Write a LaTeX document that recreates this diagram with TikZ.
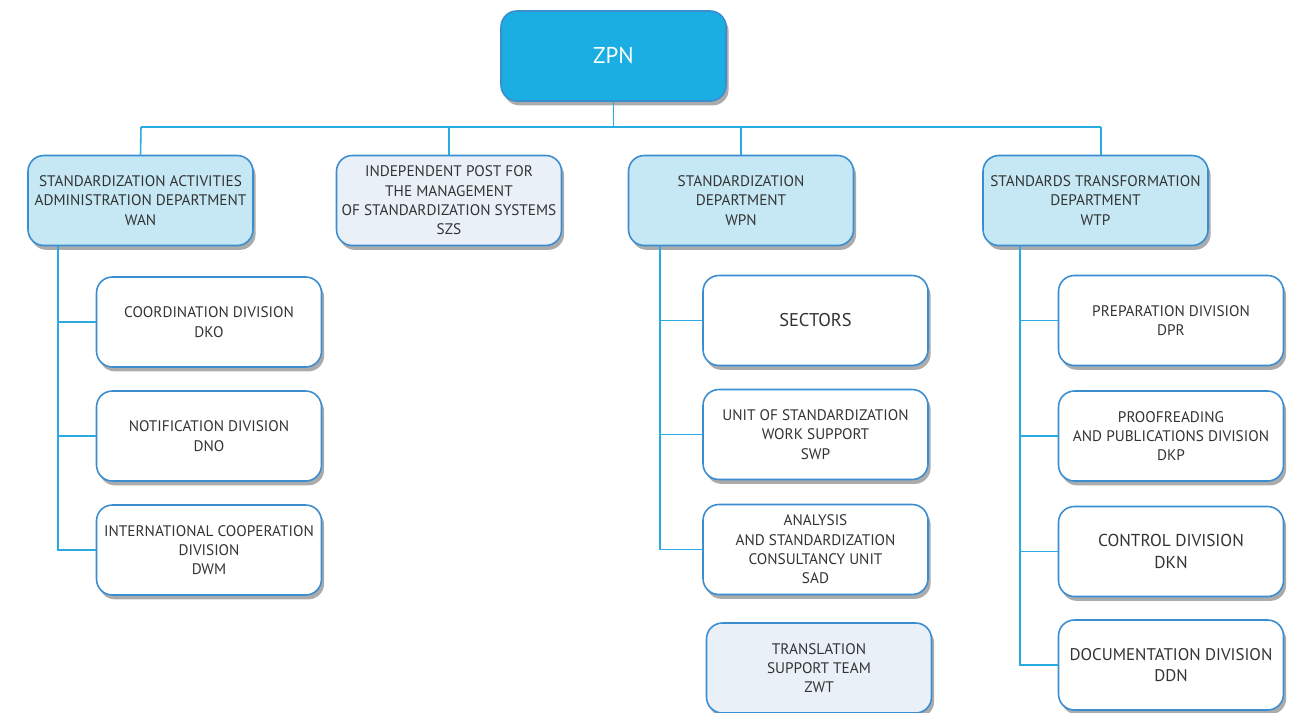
\documentclass[tikz,border=0pt]{standalone}
\usepackage{fontspec}
\setmainfont{PT Sans}
\usepackage{xcolor}
\usetikzlibrary{shadows}

\definecolor{zpnblue}{HTML}{1AAEE3}
\definecolor{edgeblue}{HTML}{3A8DD0}
\definecolor{lineblue}{HTML}{29ABE2}
\definecolor{deptfill}{HTML}{C5E8F4}
\definecolor{postfill}{HTML}{EAF0F8}
\definecolor{txtgray}{HTML}{333333}

\begin{document}
\begin{tikzpicture}[x=0.02cm,y=-0.02cm,
    box/.style={draw=edgeblue,line width=0.9pt,rounded corners=9pt,
        minimum width=4.5cm,minimum height=1.8cm,align=center,inner xsep=1pt,
        font=\fontsize{8.7}{11}\selectfont,text=txtgray,
        drop shadow={shadow xshift=1.5pt,shadow yshift=-2.5pt,opacity=0.55,fill=black!60}},
    dept/.style={box,fill=deptfill},
    post/.style={box,fill=postfill},
    unit/.style={box,fill=white},
    conn/.style={draw=lineblue,line width=0.9pt}]
    \useasboundingbox (0,0) rectangle (1291,713);

    % top
    \node[box,fill=zpnblue,text=white,font=\fontsize{13}{15}\selectfont] (zpn) at (613.5,56) {ZPN};

    % departments
    \node[dept] (wan) at (140.5,200.5) {STANDARDIZATION ACTIVITIES\\ADMINISTRATION DEPARTMENT\\WAN};
    \node[post] (szs) at (449,200.5) {INDEPENDENT POST FOR\\THE MANAGEMENT\\OF STANDARDIZATION SYSTEMS\\SZS};
    \node[dept] (wpn) at (741,200.5) {STANDARDIZATION\\DEPARTMENT\\WPN};
    \node[dept] (wtp) at (1095.5,200.5) {STANDARDS TRANSFORMATION\\DEPARTMENT\\WTP};

    % WAN units
    \node[unit] (dko) at (209,322) {COORDINATION DIVISION\\DKO};
    \node[unit] (dno) at (209,436) {NOTIFICATION DIVISION\\DNO};
    \node[unit] (dwm) at (209,550) {INTERNATIONAL COOPERATION\\DIVISION\\DWM};

    % WPN units
    \node[unit,font=\fontsize{10.5}{12.5}\selectfont] (sec) at (815.5,320.5) {SECTORS};
    \node[unit] (swp) at (815.5,434.5) {UNIT OF STANDARDIZATION\\WORK SUPPORT\\SWP};
    \node[unit] (sad) at (815.5,549.5) {ANALYSIS\\AND STANDARDIZATION\\CONSULTANCY UNIT\\SAD};
    \node[post] (zwt) at (819,668) {TRANSLATION\\SUPPORT TEAM\\ZWT};

    % WTP units
    \node[unit] (dpr) at (1171,320.5) {PREPARATION DIVISION\\DPR};
    \node[unit] (dkp) at (1171,436) {PROOFREADING\\AND PUBLICATIONS DIVISION\\DKP};
    \node[unit,font=\fontsize{9.8}{12}\selectfont] (dkn) at (1171,551.5) {CONTROL DIVISION\\DKN};
    \node[unit,font=\fontsize{9.6}{12}\selectfont] (ddn) at (1171,665) {DOCUMENTATION DIVISION\\DDN};

    % bus
    \coordinate (busL) at (141,127);
    \coordinate (busR) at (1101,127);
    \draw[conn] (busL) -- (busR);
    \draw[conn] (zpn.south) -- (zpn |- busL);
    \draw[conn] (busL) -- (wan.north);
    \draw[conn] (szs |- busL) -- (szs.north);
    \draw[conn] (wpn |- busL) -- (wpn.north);
    \draw[conn] (busR) -- (busR |- wtp.north);

    % trunks
    \coordinate (wanT) at (58,246);
    \coordinate (wpnT) at (660,246);
    \coordinate (wtpT) at (1020,246);
    \draw[conn] (wanT) |- (dwm.west);
    \draw[conn] (wanT |- dko.west) -- (dko.west);
    \draw[conn] (wanT |- dno.west) -- (dno.west);
    \draw[conn] (wpnT) |- (sad.west);
    \draw[conn] (wpnT |- sec.west) -- (sec.west);
    \draw[conn] (wpnT |- swp.west) -- (swp.west);
    \draw[conn] (wtpT) |- (ddn.west);
    \draw[conn] (wtpT |- dpr.west) -- (dpr.west);
    \draw[conn] (wtpT |- dkp.west) -- (dkp.west);
    \draw[conn] (wtpT |- dkn.west) -- (dkn.west);
\end{tikzpicture}
\end{document}
